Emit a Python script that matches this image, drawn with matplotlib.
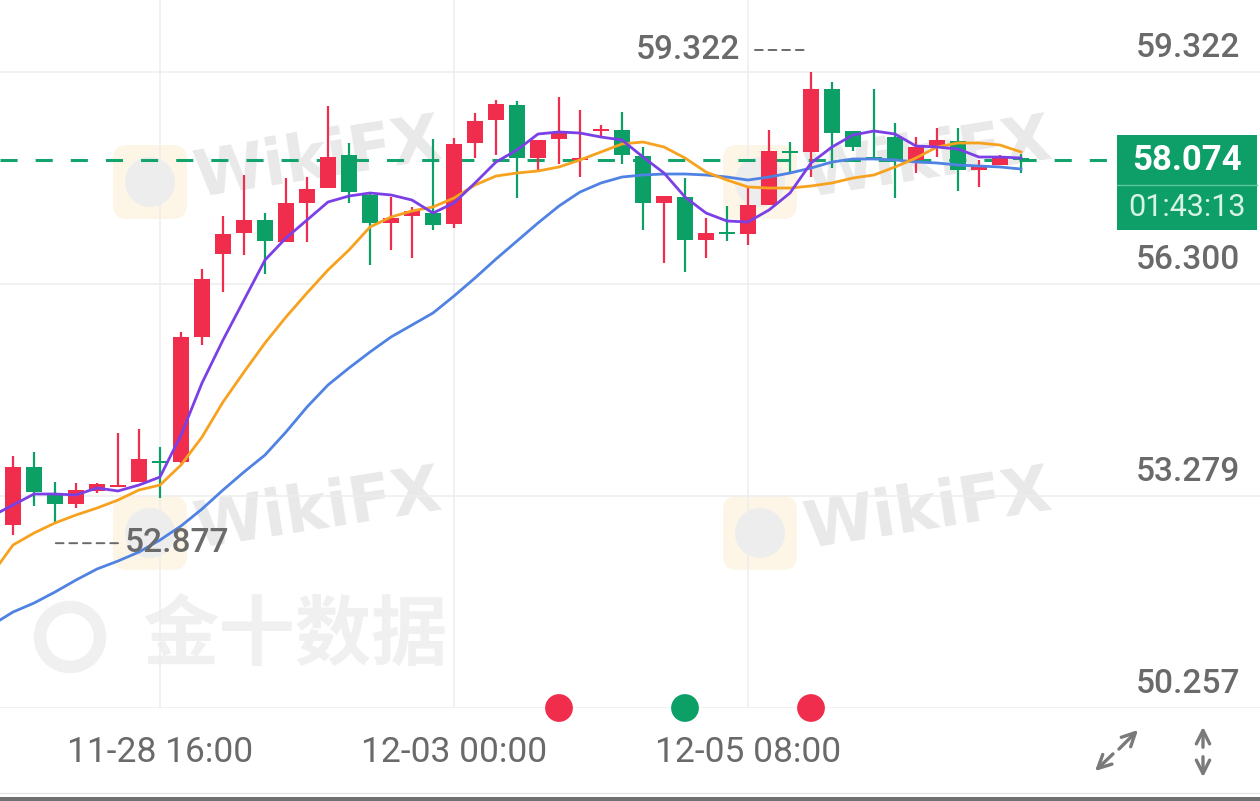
import matplotlib
matplotlib.use("Agg")
import matplotlib.pyplot as plt
import matplotlib.transforms as mtransforms
from matplotlib import font_manager
from matplotlib.lines import Line2D
from matplotlib.patches import Rectangle, FancyBboxPatch, Circle, FancyArrowPatch
import numpy as np

# 4h candles, oldest first
opens = [52.865, 53.692, 53.321, 53.164, 53.350, 53.407, 53.478, 53.777, 53.763, 55.545,
         56.728, 57.027, 57.212, 56.899, 57.455, 57.668, 58.139, 57.569, 57.170, 57.269,
         57.312, 57.155, 58.310, 58.638, 58.851, 58.096, 58.367, 58.068, 58.481, 58.495,
         58.125, 57.455, 57.540, 56.927, 57.041, 57.013, 57.426, 58.196, 58.182, 59.079,
         58.481, 58.110, 58.395, 58.068, 58.253, 58.338, 57.925, 57.996, 58.096]
closes = [53.692, 53.336, 53.164, 53.364, 53.450, 53.435, 53.806, 53.749, 55.545, 56.371,
          57.013, 57.212, 56.913, 57.455, 57.654, 58.110, 57.611, 57.170, 57.241, 57.341,
          57.141, 58.296, 58.623, 58.866, 58.096, 58.353, 58.467, 58.096, 58.509, 58.139,
          57.455, 57.554, 56.927, 57.027, 57.013, 57.426, 58.196, 58.167, 59.079, 58.452,
          58.253, 58.082, 58.068, 58.253, 58.353, 57.925, 57.968, 58.110, 58.074]
highs = [53.849, 53.906, 53.478, 53.464, 53.464, 54.176, 54.233, 53.977, 55.616, 56.514,
         57.269, 57.854, 57.312, 57.811, 57.825, 58.837, 58.310, 57.611, 57.540, 57.398,
         58.367, 58.381, 58.737, 58.923, 58.908, 58.353, 58.965, 58.780, 58.566, 58.752,
         58.253, 57.554, 57.811, 57.241, 57.412, 57.683, 58.495, 58.324, 59.322, 59.179,
         58.481, 59.079, 58.595, 58.395, 58.524, 58.524, 58.068, 58.139, 58.153]
lows = [52.723, 53.136, 52.877, 53.107, 53.321, 53.407, 53.478, 53.250, 53.749, 55.431,
        56.186, 56.713, 56.443, 56.899, 56.899, 57.668, 57.455, 56.571, 56.785, 56.671,
        57.070, 57.098, 58.096, 58.139, 57.526, 57.896, 58.011, 57.825, 58.395, 58.011,
        57.070, 56.599, 56.471, 56.671, 56.913, 56.856, 57.426, 57.882, 57.825, 57.953,
        58.196, 58.068, 57.526, 57.882, 58.110, 57.626, 57.683, 57.996, 57.882]

# moving averages, first value belongs to the candle just left of the view
ma_fast = [52.993, 53.150, 53.307, 53.307, 53.293, 53.393, 53.350, 53.435, 53.549, 54.148,
           54.889, 55.502, 56.072, 56.642, 56.956, 57.212, 57.469, 57.554, 57.597, 57.569,
           57.497, 57.312, 57.455, 57.740, 58.039, 58.210, 58.438, 58.467, 58.452, 58.395,
           58.353, 58.110, 57.882, 57.540, 57.312, 57.198, 57.184, 57.355, 57.597, 58.025,
           58.253, 58.424, 58.481, 58.438, 58.267, 58.253, 58.224, 58.110, 58.110, 58.096]
ma_mid = [52.167, 52.580, 52.751, 52.894, 53.008, 53.107, 53.221, 53.364, 53.435, 53.720,
          54.119, 54.618, 55.046, 55.459, 55.830, 56.172, 56.500, 56.785, 57.113, 57.255,
          57.341, 57.398, 57.526, 57.711, 57.839, 57.882, 57.911, 57.968, 58.068, 58.182,
          58.296, 58.324, 58.253, 58.096, 57.896, 57.782, 57.683, 57.668, 57.668, 57.697,
          57.740, 57.811, 57.854, 57.968, 58.096, 58.253, 58.310, 58.310, 58.281, 58.182]
ma_slow = [51.440, 51.625, 51.753, 51.910, 52.081, 52.238, 52.352, 52.480, 52.651, 52.851,
           53.093, 53.364, 53.621, 53.863, 54.191, 54.547, 54.861, 55.103, 55.331, 55.545,
           55.716, 55.887, 56.129, 56.386, 56.656, 56.913, 57.170, 57.412, 57.611, 57.740,
           57.825, 57.854, 57.868, 57.868, 57.854, 57.825, 57.782, 57.825, 57.882, 57.953,
           58.039, 58.082, 58.082, 58.068, 58.039, 58.025, 57.996, 57.982, 57.968, 57.939]

price_levels = [59.322, 56.300, 53.279, 50.257]
time_ticks = [7, 21, 35]
time_labels = ["11-28 16:00", "12-03 00:00", "12-05 08:00"]
event_idx = [26, 32, 38]
event_up = [True, False, True]
hi_idx, lo_idx = 38, 2
countdown = "01:43:13"

RED = "#F02D4C"
GREEN = "#0C9F66"
GRAY = "#6A6A6A"

names = {f.name for f in font_manager.fontManager.ttflist}
narrow = "Liberation Sans Narrow" if "Liberation Sans Narrow" in names else "Roboto"
xfs = 29 if narrow == "Liberation Sans Narrow" else 25.5

W, H = 1260, 801
fig = plt.figure(figsize=(W / 100, H / 100), dpi=100, facecolor="white")
ax = fig.add_axes([0, 93 / H, 1, 708 / H])
ax.set_facecolor("none")
ident = mtransforms.IdentityTransform()

# watermarks (figure level, under the axes content)
for lx, ly in [(150, 182), (760, 182), (150, 533), (760, 533)]:
    fig.patches.append(FancyBboxPatch((lx - 37, H - ly - 37), 74, 74,
                                      boxstyle="round,pad=0,rounding_size=14",
                                      transform=ident, fc="#FDF6E6", ec="none", zorder=-3))
    fig.patches.append(Circle((lx, H - ly), 25, transform=ident, fc="#EDEDED",
                              ec="none", zorder=-2))
    fig.text((lx + 168) / W, 1 - (ly - 22) / H, "WikiFX", fontsize=46, fontweight="bold",
             color="#E9E9E9", rotation=9, ha="center", va="center", zorder=-1)
fig.patches.append(Circle((70, H - 637), 30, transform=ident, fc="none", ec="#F0F0F0",
                          lw=9, zorder=-2))
fig.text(295 / W, 1 - 637 / H, "金十数据", family=["Noto Sans CJK SC", "DejaVu Sans"],
         fontsize=55, fontweight="bold", color="#F0F0F0", ha="center", va="center", zorder=-1)

idx = np.arange(len(opens))
o, c = np.array(opens), np.array(closes)
up = c >= o
colors = np.where(up, RED, GREEN)
bottoms = np.minimum(o, c)
heights = np.maximum(np.abs(c - o), 0.03)
bottoms = np.where(np.abs(c - o) < 0.03, (o + c) / 2 - 0.015, bottoms)

ax.vlines(idx, lows, highs, colors=colors, lw=1.6, zorder=2)
ax.bar(idx, heights, bottom=bottoms, width=0.8, color=colors, linewidth=0, zorder=2.1)

ma_x = np.arange(-1, len(opens))
ax.plot(ma_x, ma_slow, color="#4F82E3", lw=2.0, zorder=3)
ax.plot(ma_x, ma_mid, color="#F7A21F", lw=2.0, zorder=3)
ax.plot(ma_x, ma_fast, color="#7B3FE6", lw=2.0, zorder=3)

# last price line
ax.axhline(closes[-1], xmin=0, xmax=1118 / W, color="#13A46E", lw=2.2,
           ls=(0, (5.6, 5.9)), zorder=1.5)

ax.set_xlim(-13 / 21, (W - 13) / 21)
ax.set_ylim(price_levels[-1], 60.348)
ax.set_yticks(price_levels)
ax.set_xticks(time_ticks)
ax.set_xticklabels(time_labels, family=narrow, fontsize=xfs, color=GRAY)
ax.tick_params(axis="x", length=0, pad=20)
ax.tick_params(axis="y", length=0, labelleft=False)
ax.grid(True, color="#EDEDED", lw=1.1)
ax.set_axisbelow(True)
for s in ax.spines.values():
    s.set_visible(False)

for v in price_levels:
    ax.annotate(f"{v:.3f}", xy=(1240 / W, v), xycoords=("axes fraction", "data"),
                xytext=(0, 24), textcoords="offset pixels", ha="right", va="center",
                family="Roboto", fontweight=500, fontsize=24, color=GRAY)

# high / low marks
tr_hi = mtransforms.offset_copy(ax.transData, fig=fig, x=-6, y=22, units="dots")
ax.annotate("", xy=(hi_idx, highs[hi_idx]), xycoords=tr_hi, xytext=(-50, 0),
            textcoords="offset pixels",
            arrowprops=dict(arrowstyle="-", color=GRAY, lw=1.4, ls=(0, (4, 3)),
                            shrinkA=0, shrinkB=0))
ax.annotate(f"{highs[hi_idx]:.3f}", xy=(hi_idx, highs[hi_idx]), xycoords=tr_hi,
            xytext=(-65, 0), textcoords="offset pixels", ha="right", va="center",
            family="Roboto", fontweight=500, fontsize=24, color=GRAY)
tr_lo = mtransforms.offset_copy(ax.transData, fig=fig, x=0, y=-19, units="dots")
ax.annotate("", xy=(lo_idx, lows[lo_idx]), xycoords=tr_lo, xytext=(63, 0),
            textcoords="offset pixels",
            arrowprops=dict(arrowstyle="-", color=GRAY, lw=1.4, ls=(0, (4, 3)),
                            shrinkA=0, shrinkB=0))
ax.annotate(f"{lows[lo_idx]:.3f}", xy=(lo_idx, lows[lo_idx]), xycoords=tr_lo,
            xytext=(70, 0), textcoords="offset pixels", ha="left", va="center",
            family="Roboto", fontweight=500, fontsize=24, color=GRAY)

# event dots on the bottom line
ax.scatter(event_idx, [price_levels[-1]] * len(event_idx), s=400,
           c=[RED if u else GREEN for u in event_up], linewidths=0, clip_on=False, zorder=6)

# last price tag
fig.patches.append(Rectangle((1117, H - 230), 140, 95, transform=ident, fc="#0E9F68",
                             ec="none", zorder=5))
fig.add_artist(Line2D([1117, 1257], [H - 185, H - 185], transform=ident, color="#5FC79B",
                      lw=1.0, zorder=6))
fig.text(1187 / W, 1 - 160 / H, f"{closes[-1]:.3f}", family="Roboto", fontweight="bold",
         fontsize=25, color="white", ha="center", va="center", zorder=7)
fig.text(1187 / W, 1 - 208 / H, countdown, family="Roboto", fontsize=22,
         color="#D6F3E4", ha="center", va="center", zorder=7)

# bottom bar and icons
fig.add_artist(Line2D([0, W], [H - 793, H - 793], transform=ident, color="#E6E6E6", lw=1.0))
fig.patches.append(Rectangle((0, 0), W, 4, transform=ident, fc="#707070", ec="none"))
for a, b in [((1117, H - 751), (1140, H - 728)), ((1115, H - 752), (1093, H - 773)),
             ((1203, H - 750), (1203, H - 724)), ((1203, H - 754), (1203, H - 780))]:
    fig.patches.append(FancyArrowPatch(a, b, transform=ident, arrowstyle="->",
                                       mutation_scale=24, lw=2.4, color="#7A7A7A"))

fig.savefig("out.png", dpi=100, facecolor="white")
